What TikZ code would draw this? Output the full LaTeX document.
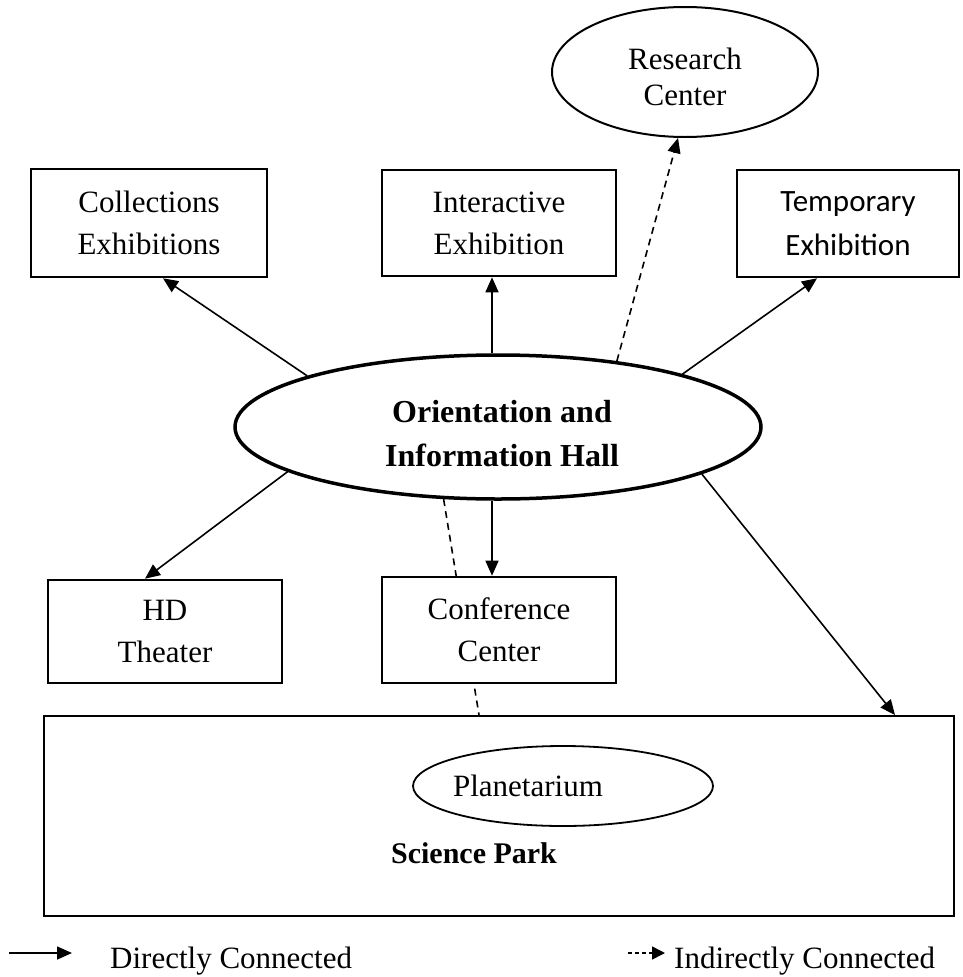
\documentclass[tikz,border=0pt]{standalone}
\usepackage{fontspec}
\setmainfont{Liberation Serif}
\newfontfamily\calibrifont{Carlito}
\usetikzlibrary{arrows.meta,shapes.geometric,backgrounds}
\tikzset{
  lbl/.style={font=\fontsize{31}{42}\selectfont, align=center},
  box/.style={lbl, draw, line width=2.6pt, fill=white, inner sep=0pt},
  conn/.style={line width=1.6pt, -{Triangle[length=15pt,width=13pt]}},
  dconn/.style={conn, dash pattern=on 7pt off 5pt},
}
\begin{document}
\begin{tikzpicture}[x=1pt,y=-1pt]
\useasboundingbox (0,0) rectangle (962,977);

\node[box, minimum width=236pt, minimum height=108pt] (coll) at (149,223) {Collections\\Exhibitions};
\node[box, minimum width=234pt, minimum height=106pt] (inter) at (499,223) {Interactive\\Exhibition};
\node[box, font=\calibrifont\fontsize{31}{44}\selectfont, minimum width=222pt, minimum height=107pt] (temp) at (848,223.5) {Temporary\\Exhibition};
\node[box, minimum width=234pt, minimum height=103pt] (hd) at (165,631.5) {HD\\Theater};
\node[box, minimum width=234pt, minimum height=106pt] (conf) at (499,630) {Conference\\Center};

\node[draw, line width=2pt, minimum width=910pt, minimum height=200pt, inner sep=0pt] (sp) at (499,816) {};
\node[draw, ellipse, line width=1.8pt, minimum width=300pt, minimum height=80pt, inner sep=0pt] (plan) at (563,786) {};
\node[lbl] (plantext) at (528,786) {Planetarium};
\node[lbl, font=\bfseries\fontsize{30}{40}\selectfont] (sptext) at (474,853) {Science Park};

\node[draw, ellipse, line width=3.5pt, minimum width=526pt, minimum height=144pt, inner sep=0pt, fill=white] (orient) at (498,427) {};
\node[lbl, font=\bfseries\fontsize{32}{44}\selectfont] (orienttext) at (502,434) {Orientation and\\Information Hall};

\node[draw, ellipse, line width=2pt, minimum width=266pt, minimum height=130pt, inner sep=0pt] (res) at (685,72) {};
\node[lbl, font=\fontsize{31}{36}\selectfont] (restext) at (685,77) {Research\\Center};

\draw[conn] (orient.165) -- ([xshift=14pt]coll.south);
\draw[conn] ([xshift=-6pt]orient.north) -- ([xshift=-7pt]inter.south);
\draw[dconn] (orient.29) -- ([xshift=-7pt]res.south);
\draw[conn] (orient.16) -- ([xshift=-31pt]temp.south);
\draw[conn] (orient.192) -- ([xshift=-20pt]hd.north);
\draw[conn] ([xshift=-6pt]orient.south) -- ([xshift=-7pt]conf.north);
\draw[conn] (orient.347) -- ([xshift=396pt]sp.north);
\begin{scope}[on background layer]
\draw[line width=1.6pt, dash pattern=on 7pt off 5pt] (orient.233) -- ([xshift=-20pt]sp.north);
\end{scope}

\coordinate (l1a) at (9,953);
\coordinate (l1b) at (72,953);
\draw[conn] (l1a) -- (l1b);
\node[lbl, anchor=base west, inner sep=0pt] (l1t) at (110,968) {Directly Connected};
\coordinate (l2a) at (628,953);
\coordinate (l2b) at (665,953);
\draw[line width=1.6pt, dash pattern=on 4pt off 3pt, -{Triangle[length=13pt,width=13pt]}] (l2a) -- (l2b);
\node[lbl, anchor=base west, inner sep=0pt] (l2t) at (674,968) {Indirectly Connected};
\end{tikzpicture}
\end{document}
